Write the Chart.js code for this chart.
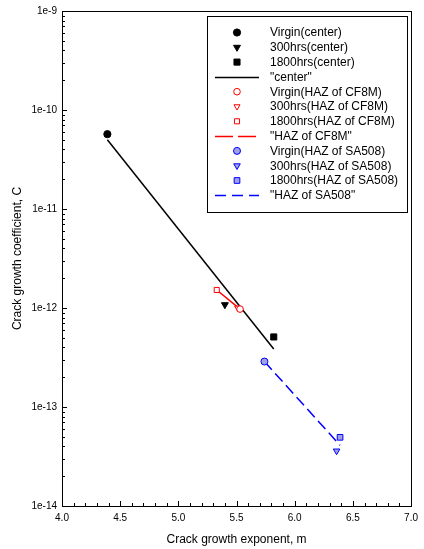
<!DOCTYPE html>
<html><head><meta charset="utf-8">
<script src="https://cdn.jsdelivr.net/npm/chart.js@4/dist/chart.umd.min.js"></script>
<style>html,body{margin:0;padding:0;background:#fff}canvas{display:block}</style>
</head><body>
<canvas id="c" width="424" height="549"></canvas>
<script>
// ---- data ----
const xTicks = [4.0, 4.5, 5.0, 5.5, 6.0, 6.5, 7.0];
const yTicks = [1e-14, 1e-13, 1e-12, 1e-11, 1e-10, 1e-9];

const virginCenter   = [{x: 4.39, y: 5.7e-11}];
const h300Center     = [{x: 5.40, y: 1.08e-12}];
const h1800Center    = [{x: 5.82, y: 5.1e-13}];
const fitCenter      = [{x: 4.39, y: 5.0e-11}, {x: 5.82, y: 3.85e-13}];

const virginCF8M     = [{x: 5.53, y: 9.75e-13}];
const h300CF8M       = [{x: 5.51, y: 1.0e-12}];
const h1800CF8M      = [{x: 5.33, y: 1.52e-12}];
const fitCF8M        = [{x: 5.33, y: 1.52e-12}, {x: 5.51, y: 1.02e-12}];

const virginSA508    = [{x: 5.74, y: 2.88e-13}];
const h300SA508      = [{x: 6.36, y: 3.6e-14}];
const h1800SA508     = [{x: 6.39, y: 4.94e-14}];
const fitSA508       = [{x: 5.74, y: 2.88e-13}, {x: 6.39, y: 4.1e-14}];

const FONT = "'Liberation Sans', Arial, sans-serif";
const BLUEFILL = 'rgb(160,160,230)';

function pt(label, data, style, rot, r, fill, stroke) {
  return {label, data, showLine:false, pointStyle:style, pointRotation:rot, pointRadius:r,
    pointHoverRadius:r, pointBackgroundColor:fill, pointBorderColor:stroke, pointBorderWidth:1,
    backgroundColor:fill, borderColor:stroke, order:1, kind:'point'};
}
function ln(label, data, color, dash, legendDash) {
  return {label, data, showLine:true, pointRadius:0, pointHoverRadius:0, borderColor:color,
    backgroundColor:color, borderWidth:1.5, borderDash:dash, fill:false, order:2, kind:'line',
    legendDash};
}

const datasets = [
  pt('Virgin(center)', virginCenter, 'circle', 0, 3.6, '#000', '#000'),
  pt('300hrs(center)', h300Center, 'triangle', 180, 4, '#000', '#000'),
  pt('1800hrs(center)', h1800Center, 'rect', 0, 4.3, '#000', '#000'),
  ln('"center"', fitCenter, '#000', [], []),
  pt('Virgin(HAZ of CF8M)', virginCF8M, 'circle', 0, 3.3, '#fff', '#ff0000'),
  pt('300hrs(HAZ of CF8M)', h300CF8M, 'triangle', 180, 3.5, '#fff', '#ff0000'),
  pt('1800hrs(HAZ of CF8M)', h1800CF8M, 'rect', 0, 3.6, '#fff', '#ff0000'),
  ln('"HAZ of CF8M"', fitCF8M, '#ff0000', [], [18, 5]),
  pt('Virgin(HAZ of SA508)', virginSA508, 'circle', 0, 3.5, BLUEFILL, '#0000ff'),
  pt('300hrs(HAZ of SA508)', h300SA508, 'triangle', 180, 3.8, BLUEFILL, '#0000ff'),
  pt('1800hrs(HAZ of SA508)', h1800SA508, 'rect', 0, 4, BLUEFILL, '#0000ff'),
  ln('"HAZ of SA508"', fitSA508, '#0000ff', [11, 5], [11, 6]),
];

function drawSym(ctx, ds, x, y) {
  ctx.save();
  ctx.fillStyle = ds.pointBackgroundColor;
  ctx.strokeStyle = ds.pointBorderColor;
  ctx.lineWidth = 1;
  Chart.helpers.drawPoint(ctx, {pointStyle: ds.pointStyle, rotation: ds.pointRotation,
    radius: ds.pointRadius, borderWidth: 1}, x, y);
  ctx.restore();
}

const framePlugin = {
  id: 'frame',
  afterDatasetsDraw(chart) {
    const ctx = chart.ctx, a = chart.chartArea;
    const xs = chart.scales.x, ys = chart.scales.y;
    ctx.save();
    ctx.strokeStyle = '#000';
    ctx.lineWidth = 1;
    ctx.strokeRect(Math.round(a.left) + 0.5, Math.round(a.top) + 0.5,
      Math.round(a.right - a.left), Math.round(a.bottom - a.top));
    // inward ticks on x axis
    ctx.beginPath();
    for (let i = 0; i <= 30; i++) {
      const v = 4 + i * 0.1;
      const px = Math.round(xs.getPixelForValue(v)) + 0.5;
      const len = (i % 5 === 0) ? 5 : 3;
      ctx.moveTo(px, a.bottom);
      ctx.lineTo(px, a.bottom - len);
    }
    // inward ticks on y axis
    for (let k = -14; k <= -9; k++) {
      for (let m = 1; m <= 9; m++) {
        const v = m * Math.pow(10, k);
        if (v > 1.0001e-9) break;
        const py = Math.round(ys.getPixelForValue(v)) + 0.5;
        const len = (m === 1) ? 5 : 3;
        ctx.moveTo(a.left, py);
        ctx.lineTo(a.left + len, py);
      }
    }
    ctx.stroke();

    // legend box
    const bx = 207.5, by = 16.5, bw = 200, bh = 196;
    ctx.fillStyle = '#fff';
    ctx.fillRect(bx, by, bw, bh);
    ctx.strokeRect(bx, by, bw, bh);
    ctx.font = '12px ' + FONT;
    ctx.textBaseline = 'middle';
    ctx.textAlign = 'left';
    chart.data.datasets.forEach((ds, i) => {
      const y = 32.5 + i * 14.8;
      if (ds.kind === 'point') {
        drawSym(ctx, ds, 237, y);
      } else {
        ctx.save();
        ctx.strokeStyle = ds.borderColor;
        ctx.lineWidth = 1.5;
        ctx.setLineDash(ds.legendDash);
        ctx.beginPath();
        ctx.moveTo(215, Math.round(y) + 0.5);
        ctx.lineTo(259, Math.round(y) + 0.5);
        ctx.stroke();
        ctx.restore();
      }
      ctx.fillStyle = '#000';
      ctx.fillText(ds.label, 270, y + 0.5);
    });
    ctx.restore();
  }
};

new Chart(document.getElementById('c'), {
  type: 'scatter',
  data: {datasets},
  options: {
    responsive: false,
    animation: false,
    devicePixelRatio: 1,
    layout: {padding: {left: 0, right: 6, top: 9, bottom: 0}},
    plugins: {legend: {display: false}, tooltip: {enabled: false}},
    scales: {
      x: {
        type: 'linear', min: 4, max: 7,
        grid: {display: false, drawTicks: false},
        border: {display: false},
        afterBuildTicks: s => { s.ticks = xTicks.map(v => ({value: v})); },
        afterFit: s => { s.height = 43; },
        ticks: {color: '#000', font: {family: FONT, size: 10}, padding: 6,
          callback: v => Number(v).toFixed(1), maxRotation: 0, autoSkip: false},
        title: {display: true, text: 'Crack growth exponent, m', color: '#000',
          font: {family: FONT, size: 12}, padding: {top: 0, bottom: 2}}
      },
      y: {
        type: 'logarithmic', min: 1e-14, max: 1e-9,
        grid: {display: false, drawTicks: false},
        border: {display: false},
        afterBuildTicks: s => { s.ticks = yTicks.map(v => ({value: v})); },
        afterFit: s => { s.width = 62; },
        ticks: {color: '#000', font: {family: FONT, size: 10}, padding: 5, autoSkip: false,
          callback: v => '1e' + Math.round(Math.log10(v))},
        title: {display: true, text: 'Crack growth coefficient, C', color: '#000',
          font: {family: FONT, size: 12}, padding: {top: 10, bottom: 0}}
      }
    }
  },
  plugins: [framePlugin]
});
</script>
</body></html>
